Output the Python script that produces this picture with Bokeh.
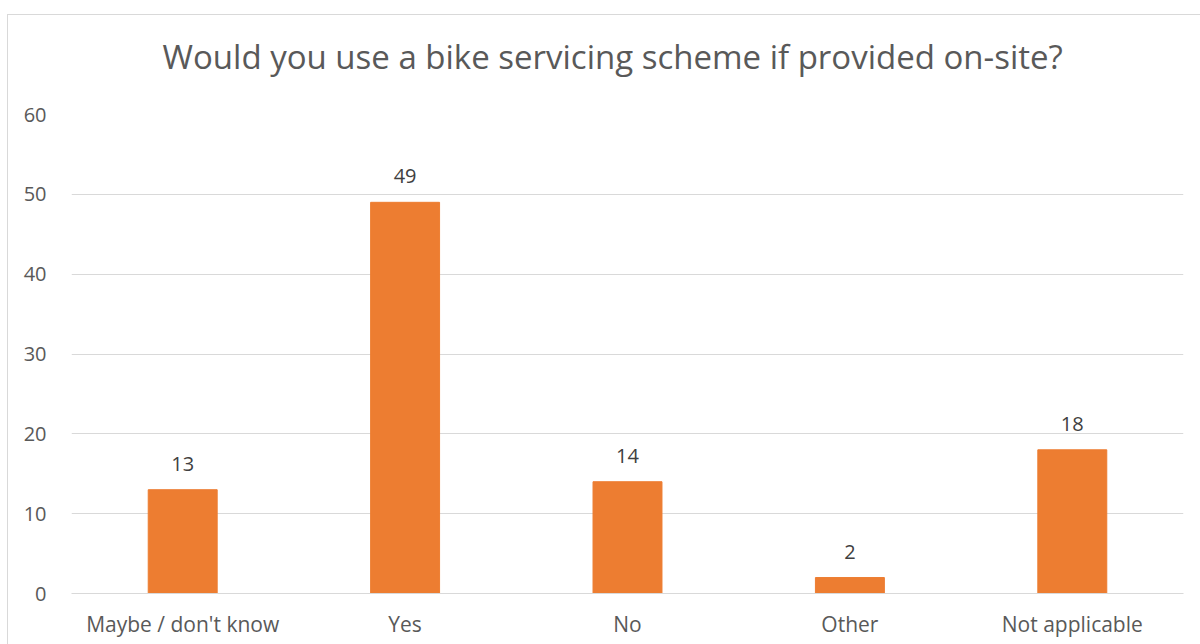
from bokeh.plotting import figure
from bokeh.models import ColumnDataSource, LabelSet, Range1d, Title
from bokeh.core.properties import value
from bokeh.embed import file_html
from bokeh.resources import INLINE

categories = ["Maybe / don't know", "Yes", "No", "Other", "Not applicable"]
values = [13, 49, 14, 2, 18]
title_text = "Would you use a bike servicing scheme if provided on-site?"

FONT = "Open Sans"
GREY = "#595959"

source = ColumnDataSource(data=dict(cat=categories, val=values, lbl=[str(v) for v in values]))

p = figure(x_range=categories, y_range=Range1d(0, 60), width=1193, height=630,
           output_backend="svg", toolbar_location=None,
           min_border_left=63, min_border_right=18, min_border_top=99, min_border_bottom=52,
           margin=(14, 0, 0, 7),
           styles={"border-left": "1px solid #d9d9d9", "border-top": "1px solid #d9d9d9"})
p.outline_line_color = None
p.background_fill_color = "white"
p.border_fill_color = "white"

# spacer between frame and title
p.add_layout(Title(text=" ", text_font_size="1px", standoff=21), "above")
p.add_layout(Title(text=title_text, align="left", offset=91, standoff=24,
                   text_font=FONT, text_font_size="33px", text_font_style="normal",
                   text_color=GREY), "above")

p.vbar(x="cat", top="val", width=0.31, color="#ED7D31", source=source)

labels = LabelSet(x="cat", y="val", text="lbl", source=source, text_align="center",
                  text_baseline="alphabetic", y_offset=19, text_font=value(FONT),
                  text_font_size="20px", text_color="#404040")
p.add_layout(labels)

p.xgrid.grid_line_color = None
p.ygrid.grid_line_color = "#d9d9d9"
p.ygrid.grid_line_width = 1
p.yaxis.ticker = [0, 10, 20, 30, 40, 50, 60]

for ax in (p.xaxis, p.yaxis):
    ax.axis_line_color = None
    ax.major_tick_line_color = None
    ax.minor_tick_line_color = None
    ax.major_label_text_font = FONT
    ax.major_label_text_font_size = "20px"
    ax.major_label_text_color = GREY
p.xaxis.major_label_text_font_size = "21px"
p.xaxis.axis_line_color = "#d9d9d9"
p.yaxis.major_label_standoff = 19
p.xaxis.major_label_standoff = 10
p.x_range.range_padding = 0

open("out.html", "w").write(file_html(p, INLINE))
